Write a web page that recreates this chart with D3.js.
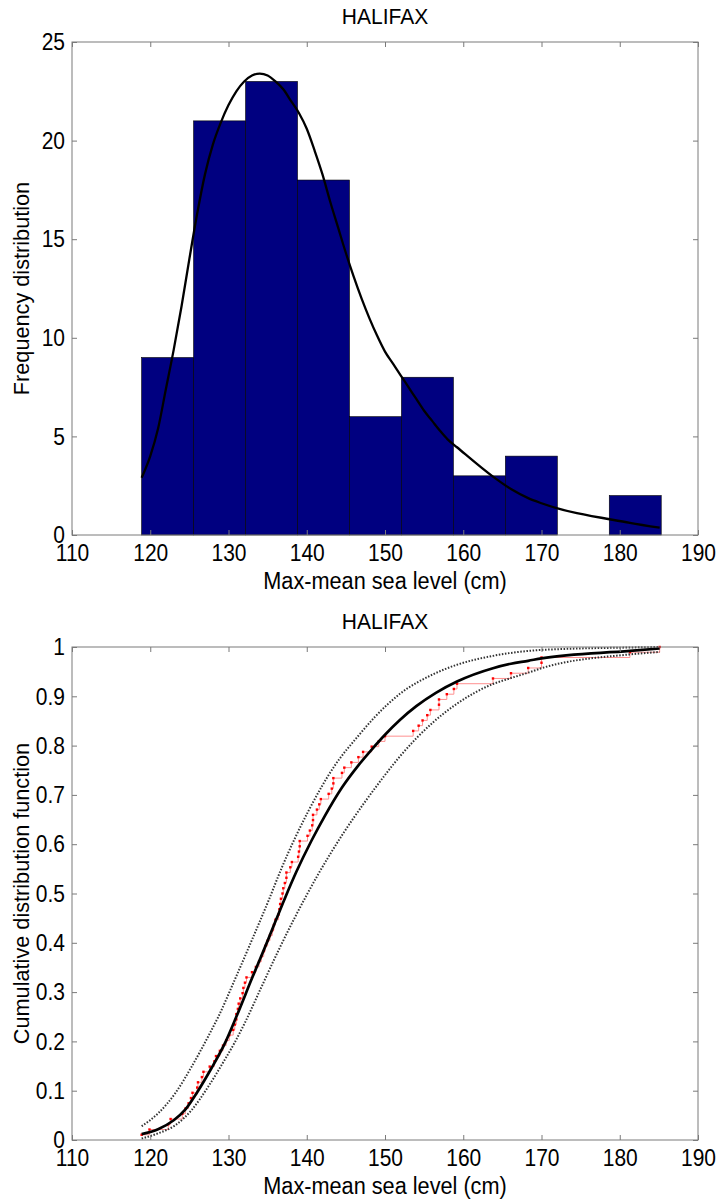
<!DOCTYPE html>
<html>
<head>
<meta charset="utf-8">
<script src="https://cdn.jsdelivr.net/npm/d3@7"></script>
<style>
  body { margin: 0; background: #fff; }
  text { font-family: "Liberation Sans", Arial, Helvetica, sans-serif; }
</style>
</head>
<body>
<svg width="719" height="1200"></svg>
<script>
// histogram (top panel)
var binStart = 118.9, binWidth = 6.64;
var binCounts = [9, 21, 23, 18, 6, 8, 3, 4, 0, 2];

// fitted density
var pdfX = [118.9, 120, 121, 122, 123, 124, 125, 126, 127, 128, 129, 130, 131, 132, 133, 134, 135, 136, 137, 138, 139, 140, 141, 142, 143, 144, 145, 146, 147, 148, 149, 150, 151, 152, 153, 154, 155, 156, 157, 158, 159.2, 163.8, 166.1, 168.3, 170.0, 181.3, 185.1];
var pdfY = [2.9, 4.0, 5.4, 7.4, 9.4, 11.6, 14.0, 16.3, 18.3, 19.8, 20.9, 21.8, 22.5, 23.0, 23.3, 23.4, 23.3, 23.0, 22.6, 22.0, 21.4, 20.6, 19.5, 18.3, 16.9, 15.6, 14.3, 13.1, 12.0, 11.0, 10.1, 9.3, 8.7, 8.1, 7.5, 6.9, 6.3, 5.8, 5.3, 4.85, 4.45, 2.96, 2.33, 1.87, 1.61, 0.62, 0.37];

// sorted annual maxima (empirical cdf, bottom panel)
var sample = [
  118.9, 119.9, 122.3, 122.6, 124.1, 124.5, 124.9, 125.2, 125.4,
  126.0, 126.1, 126.6, 126.8, 127.6, 128.2, 128.4, 128.9, 129.3, 129.7, 130.1,
  130.6, 130.8, 131.0, 131.0, 131.2, 131.3, 131.5, 131.8, 131.9, 132.1,
  132.3, 133.0, 133.5, 133.9, 134.2, 134.5, 134.7, 135.0, 135.3, 135.6,
  135.8, 136.0, 136.4, 136.5, 136.6, 136.7, 136.9, 137.0, 137.2, 137.4,
  137.4, 137.9, 138.1,
  138.9, 139.0, 139.1, 139.1, 140.1, 140.4, 140.7, 140.8, 140.8, 141.3,
  141.6, 141.8, 142.8, 143.2, 143.4, 143.4, 144.5, 144.8,
  145.7, 146.6, 147.2, 148.3, 149.2, 150.0,
  153.6, 154.3, 154.8, 155.4, 155.8, 156.9, 156.9, 157.9,
  158.8, 159.2, 163.8,
  166.1, 168.3, 170.0, 170.0,
  181.3, 185.1
];

// fitted cdf and confidence bounds
var cdfX = [118.9, 121, 123, 124.5, 126, 127.8, 129.5, 131, 133, 135.1, 137.2, 138.7, 140.6, 142.3, 144.5, 146.6, 148.3, 150, 151.9, 154, 156.5, 159.2, 163.8, 166.1, 168.3, 170, 181.3, 185.1];
var cdfY = [0.012, 0.022, 0.040, 0.062, 0.097, 0.145, 0.195, 0.25, 0.328, 0.408, 0.49, 0.545, 0.607, 0.657, 0.715, 0.76, 0.792, 0.822, 0.852, 0.88, 0.907, 0.93, 0.957, 0.966, 0.972, 0.977, 0.992, 0.997];
var upX = [118.9, 121, 123.2, 125.3, 127.4, 128.7, 130.8, 133.0, 135.1, 136.8, 140.2, 143.6, 146.6, 148.7, 151.9, 156.2, 159.2, 163.8, 166.1, 168.3, 170, 181.3, 185.1];
var upY = [0.028, 0.054, 0.095, 0.149, 0.21, 0.25, 0.325, 0.406, 0.485, 0.552, 0.667, 0.76, 0.82, 0.858, 0.905, 0.945, 0.964, 0.982, 0.988, 0.992, 0.994, 0.999, 1.0];
var loX = [118.9, 121, 123.2, 125.3, 127.4, 129.6, 130.8, 132.1, 134.2, 136.4, 138.5, 141.5, 144.5, 147.4, 149.5, 151.9, 156.2, 159.2, 163.8, 166.1, 168.3, 170, 181.3, 185.1];
var loY = [0.003, 0.0135, 0.03, 0.061, 0.108, 0.165, 0.198, 0.238, 0.31, 0.385, 0.452, 0.54, 0.618, 0.685, 0.73, 0.778, 0.848, 0.885, 0.925, 0.937, 0.948, 0.957, 0.985, 0.99];

var xTicks = [110, 120, 130, 140, 150, 160, 170, 180, 190];
var freqTicks = [0, 5, 10, 15, 20, 25];
var cdfTicks = [0, 0.1, 0.2, 0.3, 0.4, 0.5, 0.6, 0.7, 0.8, 0.9, 1];

var svg = d3.select("svg");
var left = 72, right = 698;
var w = right - left;
var axisGray = "#7a7a7a";

function frame(g, x, y, h, yTicks, yFmt) {
  g.append("rect")
      .attr("width", w).attr("height", h)
      .attr("fill", "none").attr("stroke", axisGray).attr("stroke-width", 1);

  var axes = [
    [d3.axisBottom(x).tickValues(xTicks).tickPadding(8), "translate(0," + h + ")"],
    [d3.axisTop(x).tickValues(xTicks).tickFormat(""), null],
    [d3.axisLeft(y).tickValues(yTicks).tickPadding(7).tickFormat(yFmt), null],
    [d3.axisRight(y).tickValues(yTicks).tickFormat(""), "translate(" + w + ",0)"]
  ];
  axes.forEach(function(a) {
    var ax = g.append("g").call(a[0].tickSize(-5));
    if (a[1]) ax.attr("transform", a[1]);
    ax.select(".domain").remove();
    ax.selectAll(".tick line").attr("stroke", axisGray);
    ax.selectAll("text").attr("fill", "#000")
        .attr("transform", "scale(1,1.15)")
        .style("font-size", "21px")
        .style("font-family", "'Liberation Sans', Arial, sans-serif");
  });
}

function labels(top, h, title, ylab) {
  svg.append("text")
      .attr("transform", "translate(" + (left + w / 2) + "," + (top - 18) + ") scale(1,1.05)")
      .attr("text-anchor", "middle").style("font-size", "21px").text(title);
  svg.append("text")
      .attr("transform", "translate(" + (left + w / 2) + "," + (top + h + 54) + ") scale(1,1.08)")
      .attr("text-anchor", "middle").style("font-size", "21.7px").text("Max-mean sea level (cm)");
  svg.append("text")
      .attr("transform", "translate(29," + (top + h / 2) + ") rotate(-90)")
      .attr("text-anchor", "middle").style("font-size", "21.7px").text(ylab);
}

/** top panel **/
var top1 = 42, h1 = 493;
var x1 = d3.scaleLinear().domain([110, 190]).range([0, w]);
var y1 = d3.scaleLinear().domain([0, 25]).range([h1, 0]);
var g1 = svg.append("g").attr("transform", "translate(" + left + "," + top1 + ")");

var bins = binCounts.map(function(c, i) {
  return { x0: binStart + i * binWidth, x1: binStart + (i + 1) * binWidth, n: c };
});
g1.selectAll("rect.bar")
    .data(bins.filter(function(d) { return d.n > 0; }))
    .enter().append("rect")
    .attr("class", "bar")
    .attr("x", function(d) { return x1(d.x0); })
    .attr("width", function(d) { return x1(d.x1) - x1(d.x0); })
    .attr("y", function(d) { return y1(d.n); })
    .attr("height", function(d) { return y1(0) - y1(d.n); })
    .attr("fill", "#000080")
    .attr("stroke", "#000")
    .attr("stroke-width", 0.6);

g1.append("path")
    .datum(d3.zip(pdfX, pdfY))
    .attr("fill", "none").attr("stroke", "#000").attr("stroke-width", 2.3)
    .attr("stroke-linejoin", "round")
    .attr("d", d3.line().curve(d3.curveMonotoneX)
        .x(function(d) { return x1(d[0]); })
        .y(function(d) { return y1(d[1]); }));

frame(g1, x1, y1, h1, freqTicks, function(d) { return String(d); });
labels(top1, h1, "HALIFAX", "Frequency distribution");

/** bottom panel **/
var top2 = 647, h2 = 493;
var x2 = d3.scaleLinear().domain([110, 190]).range([0, w]);
var y2 = d3.scaleLinear().domain([0, 1]).range([h2, 0]);
var g2 = svg.append("g").attr("transform", "translate(" + left + "," + top2 + ")");

var n = sample.length;
var ecdf = sample.map(function(v, i) { return [v, (i + 1) / n]; });

var stepLine = d3.line().curve(d3.curveStepAfter)
    .x(function(d) { return x2(d[0]); })
    .y(function(d) { return y2(d[1]); });

g2.append("path")
    .datum(ecdf)
    .attr("fill", "none").attr("stroke", "#ff9090").attr("stroke-width", 1)
    .attr("d", stepLine);
g2.selectAll("rect.pt")
    .data(ecdf)
    .enter().append("rect")
    .attr("class", "pt")
    .attr("x", function(d) { return x2(d[0]) - 1.2; })
    .attr("y", function(d) { return y2(d[1]) - 1.2; })
    .attr("width", 2.4).attr("height", 2.4)
    .attr("fill", "#ff0000");

var smooth = d3.line().curve(d3.curveMonotoneX)
    .x(function(d) { return x2(d[0]); })
    .y(function(d) { return y2(d[1]); });

[[upX, upY], [loX, loY]].forEach(function(b) {
  g2.append("path")
      .datum(d3.zip(b[0], b[1]))
      .attr("fill", "none").attr("stroke", "#333").attr("stroke-width", 2)
      .attr("stroke-dasharray", "1.5,1.6")
      .attr("d", smooth);
});

g2.append("path")
    .datum(d3.zip(cdfX, cdfY))
    .attr("fill", "none").attr("stroke", "#000").attr("stroke-width", 2.7)
    .attr("stroke-linejoin", "round")
    .attr("d", smooth);

frame(g2, x2, y2, h2, cdfTicks, function(d) { return String(d); });
labels(top2, h2, "HALIFAX", "Cumulative distribution function");
</script>
</body>
</html>
